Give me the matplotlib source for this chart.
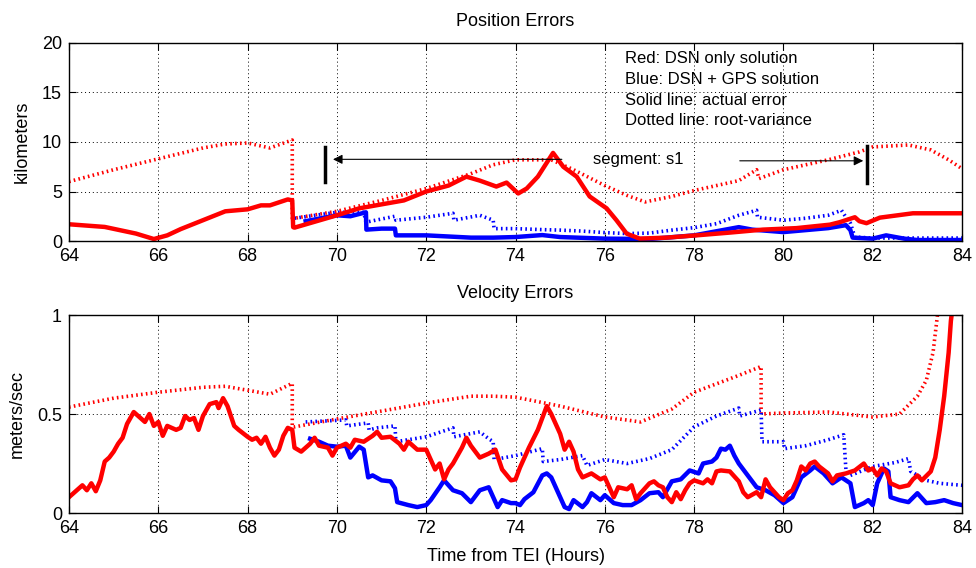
import matplotlib
matplotlib.use("Agg")
import matplotlib.pyplot as plt

plt.rcParams['font.family'] = ['Liberation Sans', 'DejaVu Sans']

# ---------------- Position errors (km) ----------------
pos_red_t = [64.0, 64.8, 65.5, 65.9, 66.2, 66.5, 67.0, 67.5, 68.0, 68.3, 68.5, 68.9, 69.0, 69.02,
             69.05, 70.0, 70.5, 71.0, 71.5, 72.0, 72.5, 72.9, 73.2, 73.57, 73.8, 74.06, 74.25,
             74.5, 74.84, 75.07, 75.37, 75.66, 76.04, 76.26, 76.49, 76.78, 77.38, 78.05, 78.8,
             79.54, 80.29, 81.04, 81.26, 81.6, 81.7, 81.86, 82.16, 82.9, 84.0]
pos_red = [1.69, 1.42, 0.75, 0.2, 0.57, 1.2, 2.1, 3.0, 3.2, 3.6, 3.6, 4.2, 4.1, 1.4,
           1.35, 2.6, 3.3, 3.7, 4.1, 5.0, 5.6, 6.5, 6.1, 5.5, 5.9, 4.8, 5.3,
           6.5, 8.9, 7.5, 6.5, 4.5, 3.3, 2.1, 0.74, 0.24, 0.34, 0.57, 0.85,
           1.15, 1.3, 1.65, 1.9, 2.4, 2.0, 1.8, 2.36, 2.8, 2.8]

pos_red_sd_t = [64.0, 65.0, 66.0, 67.0, 67.5, 68.0, 68.5, 69.0, 69.0, 69.05, 70.0, 71.0, 72.0,
                73.0, 73.5, 74.0, 74.8, 75.3, 76.0, 76.5, 76.9, 77.5, 78.0, 79.0, 79.4, 79.45,
                80.0, 81.0, 81.7, 82.0, 82.8, 83.3, 83.7, 84.0]
pos_red_sd = [6.0, 7.2, 8.3, 9.4, 9.8, 9.9, 9.4, 10.2, 2.3, 2.3, 3.0, 4.1, 5.3,
              6.8, 7.7, 8.2, 8.2, 7.2, 5.6, 4.6, 3.95, 4.5, 5.1, 6.1, 7.2, 6.3,
              7.2, 8.2, 9.0, 9.5, 9.7, 9.2, 8.2, 7.3]

pos_blue_t = [69.3, 70.0, 70.3, 70.65, 70.66, 71.0, 71.3, 71.32, 72.0, 73.0, 73.5, 74.0, 74.6,
              75.0, 76.0, 77.0, 78.0, 79.0, 79.3, 80.0, 80.5, 81.0, 81.4, 81.5, 81.55, 82.0,
              82.3, 82.7, 83.0, 84.0]
pos_blue = [2.0, 2.6, 2.5, 2.9, 1.15, 1.25, 1.25, 0.57, 0.57, 0.34, 0.34, 0.4, 0.6,
            0.4, 0.24, 0.2, 0.57, 1.4, 1.15, 0.9, 1.1, 1.3, 1.6, 1.1, 0.34, 0.24,
            0.57, 0.24, 0.1, 0.1]

pos_blue_sd_t = [69.05, 70.0, 70.6, 70.65, 71.3, 71.32, 72.0, 72.6, 72.62, 73.2, 73.5, 73.52,
                 74.0, 74.6, 75.0, 75.5, 76.0, 76.5, 77.0, 77.5, 78.0, 78.5, 79.0, 79.4, 79.42,
                 80.0, 80.5, 81.0, 81.3, 81.4, 81.5, 81.6, 82.0, 83.0, 84.0]
pos_blue_sd = [2.3, 2.9, 2.9, 1.9, 2.5, 2.1, 2.4, 2.8, 2.1, 2.6, 2.1, 1.25,
               1.25, 1.15, 1.1, 1.0, 0.85, 0.75, 0.8, 1.1, 1.35, 1.75, 2.6, 3.1, 2.4,
               2.1, 2.3, 2.6, 3.1, 2.4, 1.8, 0.4, 0.3, 0.3, 0.3]

# ---------------- Velocity errors (m/s) ----------------
vel_red_t = [64.0, 64.2, 64.3, 64.4, 64.5, 64.6, 64.7, 64.8, 64.9, 65.0, 65.1, 65.2, 65.3, 65.45,
             65.55, 65.7, 65.8, 65.9, 66.0, 66.1, 66.2, 66.4, 66.5, 66.6, 66.7, 66.8, 66.9, 67.0,
             67.15, 67.3, 67.35, 67.45, 67.55, 67.7, 67.8, 68.0, 68.1, 68.2, 68.3, 68.4, 68.5,
             68.6, 68.7, 68.8, 68.9, 69.0, 69.05, 69.2, 69.4, 69.5, 69.6, 69.8, 69.9, 70.0,
             70.2, 70.3, 70.4, 70.6, 70.8, 70.9, 71.0, 71.2, 71.4, 71.5, 71.6, 71.8, 72.0,
             72.1, 72.2, 72.3, 72.4, 72.5, 72.6, 72.8, 72.9, 73.0, 73.2, 73.4, 73.55, 73.7,
             73.9, 74.0, 74.1, 74.3, 74.5, 74.7, 74.8, 75.0, 75.1, 75.2, 75.3, 75.4, 75.5,
             75.7, 75.9, 76.0, 76.2, 76.3, 76.5, 76.6, 76.7, 76.8, 77.0, 77.1, 77.2, 77.3,
             77.4, 77.5, 77.6, 77.7, 77.8, 77.9, 78.0, 78.2, 78.3, 78.4, 78.5, 78.6, 78.8,
             79.0, 79.1, 79.2, 79.4, 79.5, 79.6, 79.7, 79.9, 80.0, 80.1, 80.2, 80.3, 80.4,
             80.5, 80.6, 80.7, 80.8, 81.0, 81.1, 81.2, 81.4, 81.6, 81.8, 81.9, 82.0, 82.1,
             82.2, 82.3, 82.4, 82.6, 82.8, 82.9, 83.0, 83.1, 83.3, 83.4, 83.5, 83.6, 83.7,
             83.75, 83.8]
vel_red = [0.08, 0.12, 0.14, 0.115, 0.15, 0.11, 0.165, 0.26, 0.28, 0.31, 0.35, 0.38, 0.45, 0.51,
           0.49, 0.46, 0.5, 0.44, 0.46, 0.39, 0.44, 0.42, 0.43, 0.49, 0.47, 0.48, 0.42, 0.49,
           0.55, 0.56, 0.53, 0.58, 0.54, 0.44, 0.42, 0.385, 0.37, 0.38, 0.35, 0.385, 0.33,
           0.29, 0.32, 0.39, 0.43, 0.42, 0.33, 0.31, 0.35, 0.38, 0.34, 0.33, 0.29, 0.33,
           0.35, 0.33, 0.37, 0.36, 0.39, 0.41, 0.38, 0.385, 0.35, 0.32, 0.36, 0.32, 0.32,
           0.27, 0.22, 0.25, 0.17, 0.22, 0.25, 0.33, 0.38, 0.34, 0.28, 0.30, 0.32, 0.22,
           0.165, 0.17, 0.23, 0.33, 0.42, 0.54, 0.5, 0.40, 0.32, 0.36, 0.31, 0.22, 0.18,
           0.2, 0.17, 0.18, 0.08, 0.13, 0.12, 0.14, 0.07, 0.1, 0.15, 0.16, 0.14, 0.13,
           0.08, 0.055, 0.105, 0.07, 0.115, 0.15, 0.165, 0.15, 0.17, 0.15, 0.21, 0.215, 0.21,
           0.16, 0.105, 0.08, 0.105, 0.08, 0.17, 0.13, 0.08, 0.065, 0.1, 0.115, 0.165, 0.235,
           0.215, 0.25, 0.26, 0.235, 0.2, 0.16, 0.19, 0.2, 0.215, 0.25, 0.215, 0.225, 0.19,
           0.225, 0.21, 0.15, 0.13, 0.14, 0.17, 0.19, 0.165, 0.21, 0.28, 0.42, 0.59, 0.81,
           0.97, 1.06]

vel_red_sd_t = [64.0, 65.0, 66.0, 67.0, 67.5, 68.0, 68.5, 69.0, 69.0, 69.05, 70.0, 71.0, 72.0,
                73.0, 73.5, 74.0, 75.0, 76.0, 76.8, 77.5, 78.0, 79.0, 79.5, 79.5, 80.0, 81.0,
                82.0, 82.6, 83.0, 83.2, 83.35, 83.45, 83.5]
vel_red_sd = [0.535, 0.58, 0.61, 0.635, 0.64, 0.62, 0.6, 0.655, 0.435, 0.435, 0.475, 0.515, 0.555,
              0.59, 0.59, 0.585, 0.54, 0.485, 0.46, 0.525, 0.61, 0.695, 0.74, 0.5, 0.505, 0.51,
              0.485, 0.5, 0.59, 0.67, 0.81, 1.0, 1.1]

vel_blue_t = [69.4, 69.6, 69.8, 70.0, 70.2, 70.3, 70.5, 70.6, 70.7, 70.8, 71.0, 71.2, 71.3, 71.35,
              71.6, 71.8, 72.0, 72.1, 72.3, 72.4, 72.6, 72.8, 73.0, 73.2, 73.4, 73.5, 73.6,
              73.7, 73.9, 74.0, 74.1, 74.2, 74.4, 74.6, 74.7, 74.8, 75.0, 75.1, 75.2, 75.3,
              75.5, 75.6, 75.7, 75.9, 76.0, 76.2, 76.4, 76.6, 76.8, 77.0, 77.2, 77.3, 77.5,
              77.7, 77.9, 78.1, 78.2, 78.4, 78.5, 78.6, 78.7, 78.8, 78.9, 79.0, 79.2, 79.4,
              79.6, 79.8, 80.0, 80.2, 80.4, 80.6, 80.7, 80.9, 81.1, 81.3, 81.5, 81.6, 81.8,
              81.9, 82.0, 82.1, 82.25, 82.35, 82.4, 82.6, 82.8, 83.0, 83.2, 83.4, 83.6, 83.8,
              84.0]
vel_blue = [0.375, 0.36, 0.34, 0.335, 0.34, 0.28, 0.335, 0.32, 0.18, 0.19, 0.165, 0.16, 0.125, 0.055,
            0.04, 0.03, 0.04, 0.065, 0.13, 0.165, 0.115, 0.1, 0.055, 0.115, 0.13, 0.08, 0.03,
            0.065, 0.05, 0.05, 0.04, 0.07, 0.105, 0.19, 0.2, 0.18, 0.08, 0.03, 0.02, 0.065,
            0.03, 0.055, 0.1, 0.065, 0.09, 0.05, 0.04, 0.04, 0.065, 0.1, 0.105, 0.08, 0.16,
            0.17, 0.215, 0.2, 0.25, 0.26, 0.28, 0.325, 0.32, 0.34, 0.29, 0.25, 0.19, 0.13,
            0.115, 0.09, 0.05, 0.08, 0.18, 0.215, 0.235, 0.2, 0.15, 0.18, 0.15, 0.03, 0.05,
            0.065, 0.04, 0.15, 0.225, 0.21, 0.08, 0.065, 0.055, 0.1, 0.05, 0.055, 0.065, 0.05,
            0.04]

vel_blue_sd_t = [69.3, 70.2, 70.22, 70.7, 70.72, 70.9, 71.3, 71.32, 72.0, 72.6, 72.62, 73.2,
                 73.4, 73.5, 73.52, 74.0, 74.6, 74.62, 75.0, 75.5, 75.6, 76.0, 76.5, 77.0, 77.5,
                 78.0, 78.5, 79.0, 79.02, 79.5, 79.52, 80.0, 80.02, 80.5, 81.0, 81.35, 81.4,
                 81.5, 82.0, 82.5, 82.8, 82.85, 83.2, 83.5, 84.0]
vel_blue_sd = [0.46, 0.47, 0.44, 0.455, 0.42, 0.43, 0.44, 0.36, 0.385, 0.43, 0.385, 0.41,
               0.375, 0.36, 0.27, 0.29, 0.325, 0.26, 0.27, 0.29, 0.24, 0.27, 0.25, 0.275, 0.32,
               0.435, 0.49, 0.53, 0.49, 0.52, 0.36, 0.36, 0.325, 0.34, 0.37, 0.395, 0.215,
               0.19, 0.235, 0.255, 0.275, 0.21, 0.165, 0.15, 0.14]

RED = '#ff0000'
BLUE = '#0000ff'
DOT = (0, (0.45, 0.9))
LW_SOLID = 3.2
LW_DOT = 2.6

fig = plt.figure(figsize=(9.76, 5.68), dpi=100)
ax1 = fig.add_axes([0.0707, 0.5757, 0.915, 0.3486])
ax2 = fig.add_axes([0.0707, 0.0968, 0.915, 0.3486])

for ax in (ax1, ax2):
    ax.set_xlim(64, 84)
    ax.set_xticks(range(64, 85, 2))
    ax.grid(True, linestyle=(0, (1, 3)), color='black', linewidth=0.7)
    ax.tick_params(direction='in', top=True, right=True, labelsize=13, length=5)
    ax.tick_params(axis='x', pad=5)
    ax.tick_params(axis='y', pad=5)
    for s in ax.spines.values():
        s.set_linewidth(1.0)

# top panel
ax1.plot(pos_red_sd_t, pos_red_sd, color=RED, lw=LW_DOT, linestyle=DOT, dash_capstyle='butt')
ax1.plot(pos_blue_sd_t, pos_blue_sd, color=BLUE, lw=LW_DOT, linestyle=DOT, dash_capstyle='butt')
ax1.plot(pos_blue_t, pos_blue, color=BLUE, lw=LW_SOLID)
ax1.plot(pos_red_t, pos_red, color=RED, lw=LW_SOLID)
ax1.set_ylim(0, 20)
ax1.set_yticks([0, 5, 10, 15, 20])
ax1.set_ylabel('kilometers', fontsize=13, labelpad=8)
ax1.set_title('Position Errors', fontsize=13, pad=12.5)

ax1.text(76.45, 19.15, 'Red: DSN only solution\nBlue: DSN + GPS solution\n'
         'Solid line: actual error\nDotted line: root-variance',
         fontsize=12, va='top', ha='left', linespacing=1.47)
ax1.text(75.74, 8.2, 'segment: s1', fontsize=12, va='center', ha='left')
ax1.annotate('', xy=(69.85, 8.25), xytext=(75.1, 8.25),
             arrowprops=dict(arrowstyle='-|>', color='black', lw=0.8, mutation_scale=14))
ax1.annotate('', xy=(81.85, 8.1), xytext=(78.96, 8.1),
             arrowprops=dict(arrowstyle='-|>', color='black', lw=0.8, mutation_scale=14))
ax1.plot([69.73, 69.73], [6.0, 9.5], color='black', lw=2.5)
ax1.plot([81.87, 81.87], [5.9, 9.6], color='black', lw=2.5)

# bottom panel
ax2.plot(vel_red_sd_t, vel_red_sd, color=RED, lw=LW_DOT, linestyle=DOT, dash_capstyle='butt')
ax2.plot(vel_blue_sd_t, vel_blue_sd, color=BLUE, lw=LW_DOT, linestyle=DOT, dash_capstyle='butt')
ax2.plot(vel_blue_t, vel_blue, color=BLUE, lw=LW_SOLID)
ax2.plot(vel_red_t, vel_red, color=RED, lw=LW_SOLID)
ax2.set_ylim(0, 1)
ax2.set_yticks([0, 0.5, 1])
ax2.set_yticklabels(['0', '0.5', '1'])
ax2.set_ylabel('meters/sec', fontsize=13, labelpad=8)
ax2.set_title('Velocity Errors', fontsize=13, pad=12.5)
ax2.set_xlabel('Time from TEI (Hours)', fontsize=13, labelpad=8)

fig.savefig('out.png', dpi=100)
